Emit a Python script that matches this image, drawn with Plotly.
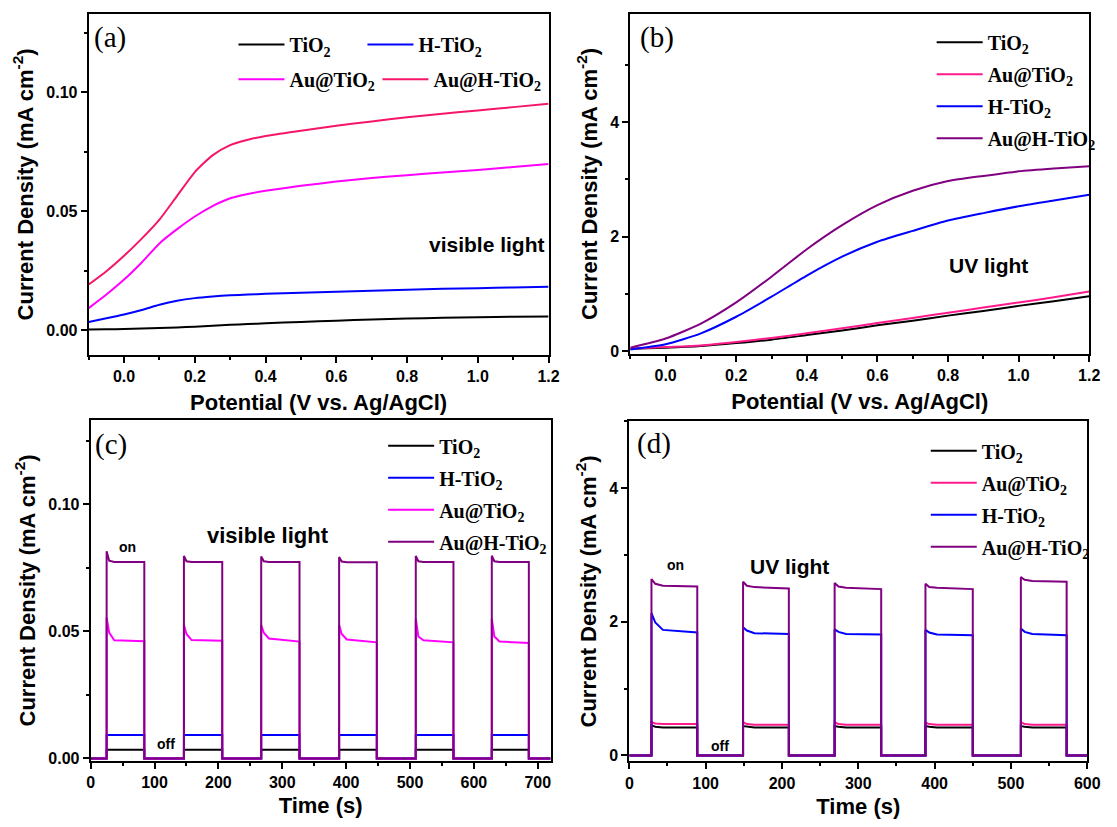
import plotly.graph_objects as go

W, H = 1117, 827

# ---------------- data ----------------
# (a) LSV, visible light
potential_a = [-0.1, -0.05, 0.0, 0.05, 0.1, 0.15, 0.2, 0.25, 0.3, 0.35, 0.4, 0.5, 0.6, 0.7, 0.8, 0.9, 1.0, 1.1, 1.2]
tio2_a = [0.0003, 0.0004, 0.0005, 0.0007, 0.0009, 0.0012, 0.0015, 0.0019, 0.0023, 0.0026, 0.0029, 0.0035, 0.0040, 0.0045, 0.0049, 0.0052, 0.0055, 0.0057, 0.0058]
htio2_a = [0.0035, 0.0050, 0.0066, 0.0085, 0.0107, 0.0124, 0.0135, 0.0142, 0.0147, 0.0150, 0.0153, 0.0158, 0.0162, 0.0166, 0.0170, 0.0174, 0.0177, 0.0180, 0.0183]
autio2_a = [0.0093, 0.0150, 0.0213, 0.0285, 0.0365, 0.0425, 0.0478, 0.0522, 0.0555, 0.0573, 0.0586, 0.0607, 0.0625, 0.0640, 0.0652, 0.0663, 0.0674, 0.0686, 0.0699]
auhtio2_a = [0.0192, 0.0248, 0.0313, 0.0385, 0.0465, 0.0565, 0.0665, 0.0735, 0.0778, 0.0801, 0.0817, 0.0839, 0.0860, 0.0878, 0.0895, 0.0910, 0.0924, 0.0938, 0.0952]

# (b) LSV, UV light
potential_b = [-0.1, 0.0, 0.1, 0.2, 0.3, 0.4, 0.5, 0.6, 0.7, 0.8, 0.9, 1.0, 1.1, 1.2]
tio2_b = [0.04, 0.06, 0.09, 0.14, 0.20, 0.28, 0.36, 0.45, 0.53, 0.62, 0.70, 0.79, 0.87, 0.96]
autio2_b = [0.04, 0.07, 0.10, 0.16, 0.23, 0.31, 0.40, 0.49, 0.58, 0.67, 0.76, 0.85, 0.94, 1.04]
htio2_b = [0.03, 0.12, 0.31, 0.60, 0.95, 1.32, 1.65, 1.91, 2.10, 2.28, 2.41, 2.53, 2.63, 2.73]
auhtio2_b = [0.06, 0.22, 0.48, 0.85, 1.30, 1.78, 2.20, 2.55, 2.80, 2.97, 3.06, 3.14, 3.19, 3.23]

# (c) transient photocurrent, visible light
on_c = [25, 146, 267, 389, 509, 628]
off_c = [84, 206, 327, 448, 568, 686]
tend_c = 720
tio2_c = dict(spike=[0.0034] * 6, early=[0.0034] * 6, settle=[0.0034] * 6, end=[0.0034] * 6)
htio2_c = dict(spike=[0.0092] * 6, early=[0.0092] * 6, settle=[0.0092] * 6, end=[0.0092] * 6)
autio2_c = dict(spike=[0.0555, 0.0525, 0.0525, 0.0525, 0.0550, 0.0550],
                early=[0.0495, 0.0490, 0.0495, 0.0490, 0.0480, 0.0480],
                settle=[0.0465, 0.0466, 0.0472, 0.0468, 0.0465, 0.0460],
                end=[0.0461, 0.0463, 0.0460, 0.0457, 0.0457, 0.0454])
auhtio2_c = dict(spike=[0.0815, 0.0797, 0.0795, 0.0793, 0.0797, 0.0798],
                 early=[0.0778, 0.0776, 0.0776, 0.0775, 0.0776, 0.0776],
                 settle=[0.0773, 0.0773, 0.0773, 0.0772, 0.0773, 0.0773],
                 end=[0.0773, 0.0773, 0.0773, 0.0772, 0.0773, 0.0773])

# (d) transient photocurrent, UV light
on_d = [29, 149, 269, 388, 513]
off_d = [89, 209, 330, 450, 573]
tend_d = 600
tio2_d = dict(spike=[0.45, 0.44, 0.44, 0.44, 0.44], early=[0.43, 0.43, 0.43, 0.43, 0.43],
              settle=[0.42, 0.42, 0.42, 0.42, 0.42], end=[0.42, 0.42, 0.42, 0.42, 0.42])
autio2_d = dict(spike=[0.50, 0.50, 0.50, 0.49, 0.50], early=[0.48, 0.47, 0.47, 0.47, 0.47],
                settle=[0.47, 0.46, 0.46, 0.46, 0.46], end=[0.47, 0.46, 0.46, 0.46, 0.46])
htio2_d = dict(spike=[2.13, 1.92, 1.89, 1.88, 1.90], early=[1.99, 1.87, 1.85, 1.84, 1.85],
               settle=[1.88, 1.83, 1.82, 1.81, 1.82], end=[1.84, 1.82, 1.81, 1.80, 1.80])
auhtio2_d = dict(spike=[2.64, 2.60, 2.58, 2.57, 2.67], early=[2.57, 2.54, 2.53, 2.52, 2.63],
                 settle=[2.54, 2.52, 2.51, 2.51, 2.61], end=[2.53, 2.50, 2.49, 2.49, 2.60])

# ---------------- styling ----------------
BLACK = "#000000"
BLUE = "#0000FF"
MAGENTA = "#FF00FF"
CRIMSON = "#F5166A"
PINK = "#FF1A8C"
PURPLE = "#800080"

SANS = "Liberation Sans"
SERIF = "Liberation Serif"

def name(s):
    return s.replace("O2", "O<sub>2</sub>")

def px(x):
    return x / W

def py(y):
    return 1 - y / H

def pulse(on, off, lv, tend, early_dt, settle_dt):
    xs, ys = [0], [0]
    for i in range(len(on)):
        xs += [on[i], on[i], on[i] + early_dt, on[i] + settle_dt, off[i], off[i]]
        ys += [0, lv["spike"][i], lv["early"][i], lv["settle"][i], lv["end"][i], 0]
    xs.append(tend)
    ys.append(0)
    return xs, ys

fig = go.Figure()

def add(x, y, label, color, ax, legend, group, lw=None, shape="linear"):
    fig.add_trace(go.Scatter(
        x=x, y=y, mode="lines", name=name(label),
        line=dict(color=color, width=2, shape=shape, smoothing=0.6 if shape == "spline" else None),
        xaxis="x" + ax, yaxis="y" + ax, legend=legend, legendgroup=group,
        legendwidth=lw,
    ))

# (a)
add(potential_a, tio2_a, "TiO2", BLACK, "", "legend", "a1", 68, "spline")
add(potential_a, htio2_a, "H-TiO2", BLUE, "", "legend", "a2", 110, "spline")
add(potential_a, autio2_a, "Au@TiO2", MAGENTA, "", "legend2", "a3", 83, "spline")
add(potential_a, auhtio2_a, "Au@H-TiO2", CRIMSON, "", "legend2", "a4", 125, "spline")
# (b)
add(potential_b, tio2_b, "TiO2", BLACK, "2", "legend3", "b1", None, "spline")
add(potential_b, autio2_b, "Au@TiO2", PINK, "2", "legend3", "b2", None, "spline")
add(potential_b, htio2_b, "H-TiO2", BLUE, "2", "legend3", "b3", None, "spline")
add(potential_b, auhtio2_b, "Au@H-TiO2", PURPLE, "2", "legend3", "b4", None, "spline")
# (c)
for lab, col, lv, g in [("TiO2", BLACK, tio2_c, "c1"), ("H-TiO2", BLUE, htio2_c, "c2"),
                        ("Au@TiO2", MAGENTA, autio2_c, "c3"), ("Au@H-TiO2", PURPLE, auhtio2_c, "c4")]:
    xs, ys = pulse(on_c, off_c, lv, tend_c, 4, 12)
    add(xs, ys, lab, col, "3", "legend4", g)
# (d)
for lab, col, lv, g in [("TiO2", BLACK, tio2_d, "d1"), ("Au@TiO2", PINK, autio2_d, "d2"),
                        ("H-TiO2", BLUE, htio2_d, "d3"), ("Au@H-TiO2", PURPLE, auhtio2_d, "d4")]:
    xs, ys = pulse(on_d, off_d, lv, tend_d, 5, 15)
    add(xs, ys, lab, col, "4", "legend5", g)

tickfont = dict(family=SANS, size=16, color="black", weight="bold")
titlefont = dict(family=SANS, size=22, color="black", weight="bold")

def axis(domain, rng, dtick, minor, fmt, title, anchor, standoff):
    return dict(
        domain=domain, range=rng, dtick=dtick, tick0=0, tickformat=fmt,
        showline=True, linecolor="black", linewidth=2, mirror=True,
        ticks="outside", ticklen=6, tickwidth=1.5, tickcolor="black",
        minor=dict(dtick=minor, ticks="outside", ticklen=3, tickwidth=1.5, tickcolor="black"),
        showgrid=False, zeroline=False, tickfont=tickfont,
        title=dict(text=title, font=titlefont, standoff=standoff), anchor=anchor,
    )

YT = "Current Density (mA cm<sup>-2</sup>)"
XT_V = "Potential (V vs. Ag/AgCl)"
XT_T = "Time (s)"

legfont = dict(family=SERIF, size=20, color="black", weight="bold")

def hleg(x, y):
    return dict(orientation="h", x=px(x), y=py(y), xanchor="left", yanchor="middle",
                font=legfont, bgcolor="rgba(0,0,0,0)", itemwidth=46, itemclick=False)

def vleg(x, y):
    return dict(orientation="v", x=px(x), y=py(y), xanchor="left", yanchor="top",
                font=legfont, bgcolor="rgba(0,0,0,0)", itemwidth=46,
                tracegroupgap=3, itemclick=False)

fig.update_layout(
    width=W, height=H, margin=dict(l=0, r=0, t=0, b=0),
    paper_bgcolor="white", plot_bgcolor="white",
    xaxis=axis([px(86), px(553)], [-0.1, 1.2], 0.2, 0.1, ".1f", XT_V, "y", 10),
    yaxis=axis([py(358), py(14)], [-0.0104, 0.133], 0.05, 0.025, ".2f", YT, "x", 7),
    xaxis2=axis([px(636), px(1102)], [-0.1, 1.2], 0.2, 0.1, ".1f", XT_V, "y2", 10),
    yaxis2=axis([py(357), py(14)], [-0.05, 5.89], 2, 1, "d", YT, "x2", 7),
    xaxis3=axis([px(88), px(555)], [0, 720], 100, 50, "d", XT_T, "y3", 8),
    yaxis3=axis([py(767), py(424)], [-0.0008, 0.133], 0.05, 0.025, ".2f", YT, "x3", 7),
    xaxis4=axis([px(635), px(1100)], [0, 600], 100, 50, "d", XT_T, "y4", 8),
    yaxis4=axis([py(768), py(425)], [-0.09, 5.0], 2, 1, "d", YT, "x4", 7),
    legend=hleg(233, 45),
    legend2=hleg(233, 80),
    legend3=vleg(942, 23),
    legend4=vleg(385, 430),
    legend5=vleg(936, 435),
    showlegend=True,
)

def note(text, x, y, size, family=SANS, weight="bold", xanchor="center"):
    fig.add_annotation(text=text, x=px(x), y=py(y), xref="paper", yref="paper",
                       showarrow=False, xanchor=xanchor, yanchor="middle",
                       font=dict(family=family, size=size, color="black", weight=weight))

note("(a)", 89, 38, 29, SERIF, "normal", "left")
note("(b)", 644, 38, 29, SERIF, "normal", "left")
note("(c)", 90, 448, 29, SERIF, "normal", "left")
note("(d)", 641, 447, 29, SERIF, "normal", "left")
note("visible light", 490, 247, 21)
note("UV light", 1000, 268, 21)
note("visible light", 268, 540, 22)
note("UV light", 798, 571, 21)
note("on", 125, 552, 14)
note("off", 164, 750, 14)
note("on", 682, 570, 14)
note("off", 727, 752, 14)

fig.write_html("out.html")
